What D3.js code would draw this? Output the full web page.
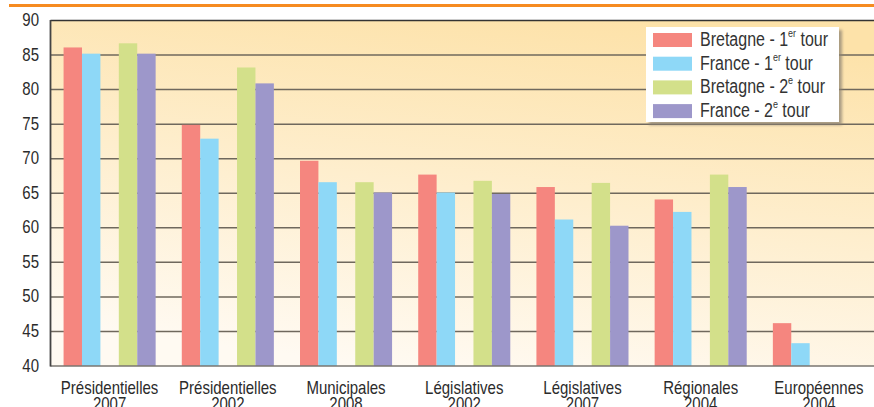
<!DOCTYPE html>
<html>
<head>
<meta charset="utf-8">
<script src="https://cdn.jsdelivr.net/npm/d3@7"></script>
<style>
  body { margin: 0; background: #fff; }
  svg { display: block; font-family: "Liberation Sans", Arial, sans-serif; }
</style>
</head>
<body>
<svg id="chart" width="874" height="407"></svg>
<script>
// election categories (two-line labels)
const categories = [
  ["Présidentielles", "2007"],
  ["Présidentielles", "2002"],
  ["Municipales", "2008"],
  ["Législatives", "2002"],
  ["Législatives", "2007"],
  ["Régionales", "2004"],
  ["Européennes", "2004"]
];

// turnout values (%), null = no second round
const bretagne1 = [86.1, 74.9, 69.7, 67.7, 65.9, 64.1, 46.2];
const france1   = [85.2, 72.9, 66.6, 65.1, 61.2, 62.3, 43.3];
const bretagne2 = [86.7, 83.2, 66.6, 66.8, 66.5, 67.7, null];
const france2   = [85.2, 80.9, 65.1, 64.9, 60.3, 65.9, null];

const yTicks = [40, 45, 50, 55, 60, 65, 70, 75, 80, 85, 90];

const series = [
  { key: "b1", label: "Bretagne - 1", sup: "er", values: bretagne1, color: "#f5867f" },
  { key: "f1", label: "France - 1", sup: "er", values: france1, color: "#8ed8f7" },
  { key: "b2", label: "Bretagne - 2", sup: "e", values: bretagne2, color: "#d3e08a" },
  { key: "f2", label: "France - 2", sup: "e", values: france2, color: "#9d97ca" }
];
// the original chart keeps an empty slot between 1st and 2nd round
const slots = ["b1", "f1", "gap", "b2", "f2"];

const svg = d3.select("#chart");
const plotLeft = 50.5, plotRight = 878, plotTop = 20.5, plotBottom = 366;

const x0 = d3.scaleBand().domain(d3.range(categories.length)).range([plotLeft, plotRight]);
const x1 = d3.scaleBand().domain(slots).range([0, x0.bandwidth()]).paddingOuter(0.71);
const y = d3.scaleLinear().domain([40, 90]).range([plotBottom, plotTop]);

// orange rule at the top
svg.append("rect").attr("x", 9).attr("y", 4).attr("width", 865).attr("height", 3).attr("fill", "#f68b20");

// plot background
const defs = svg.append("defs");
const grad = defs.append("linearGradient").attr("id", "bg").attr("x1", "0.7").attr("y1", "0").attr("x2", "0.4").attr("y2", "1");
grad.append("stop").attr("offset", "0").attr("stop-color", "#fde2a9");
grad.append("stop").attr("offset", "1").attr("stop-color", "#fffaf2");
const blur = defs.append("filter").attr("id", "shadow").attr("x", "-10%").attr("y", "-10%").attr("width", "130%").attr("height", "130%");
blur.append("feGaussianBlur").attr("stdDeviation", 1.5);

svg.append("rect").attr("x", plotLeft).attr("y", plotTop).attr("width", 874 - plotLeft).attr("height", plotBottom - plotTop).attr("fill", "url(#bg)");

// gridlines
svg.append("g").selectAll("line")
  .data(yTicks.filter(d => d > 40))
  .join("line")
  .attr("x1", plotLeft).attr("x2", 874)
  .attr("y1", d => y(d)).attr("y2", d => y(d))
  .attr("stroke", d => d === 90 ? "#333" : "#6f685d")
  .attr("stroke-width", 1.5);

// bars
series.forEach(s => {
  svg.append("g").selectAll("rect")
    .data(s.values.map((v, i) => ({ i, v })).filter(d => d.v != null))
    .join("rect")
    .attr("x", d => x0(d.i) + x1(s.key))
    .attr("width", x1.bandwidth())
    .attr("y", d => y(d.v))
    .attr("height", d => y(40) - y(d.v))
    .attr("fill", s.color);
});

// axes lines
svg.append("line").attr("x1", plotLeft).attr("x2", 874).attr("y1", plotBottom).attr("y2", plotBottom)
  .attr("stroke", "#7a7670").attr("stroke-width", 1.5);
svg.append("line").attr("x1", plotLeft).attr("x2", plotLeft).attr("y1", plotTop - 0.5).attr("y2", plotBottom + 0.5)
  .attr("stroke", "#444").attr("stroke-width", 1.8);

// text is vertically stretched in the original picture
function stretched(g, px, py) {
  return g.append("text").attr("transform", `translate(${px},${py}) scale(1,1.25)`);
}

// y tick labels
yTicks.forEach(t => {
  stretched(svg, 39, y(t) + 5.5)
    .attr("text-anchor", "end").attr("font-size", 15).attr("fill", "#2b2b2b")
    .text(t);
});

// category labels
categories.forEach((c, i) => {
  const cx = x0(i) + x0.bandwidth() / 2;
  c.forEach((line, j) => {
    stretched(svg, cx, 393.5 + j * 16.5)
      .attr("text-anchor", "middle").attr("font-size", 15).attr("fill", "#2b2b2b")
      .text(line);
  });
});

// legend
const lg = svg.append("g");
lg.append("rect").attr("x", 649).attr("y", 30).attr("width", 193).attr("height", 95)
  .attr("fill", "#8d8272").attr("opacity", 0.75).attr("filter", "url(#shadow)");
lg.append("rect").attr("x", 646).attr("y", 27).attr("width", 193).attr("height", 95).attr("fill", "#fff");
series.forEach((s, i) => {
  const yy = 33 + i * 23.7;
  lg.append("rect").attr("x", 653).attr("y", yy).attr("width", 39).attr("height", 14).attr("fill", s.color);
  const t = stretched(lg, 700, yy + 12.8).attr("font-size", 16).attr("fill", "#333");
  t.append("tspan").text(s.label);
  t.append("tspan").attr("font-size", 9).attr("dy", -7).text(s.sup);
  t.append("tspan").attr("dy", 7).text(" tour");
});
</script>
</body>
</html>
